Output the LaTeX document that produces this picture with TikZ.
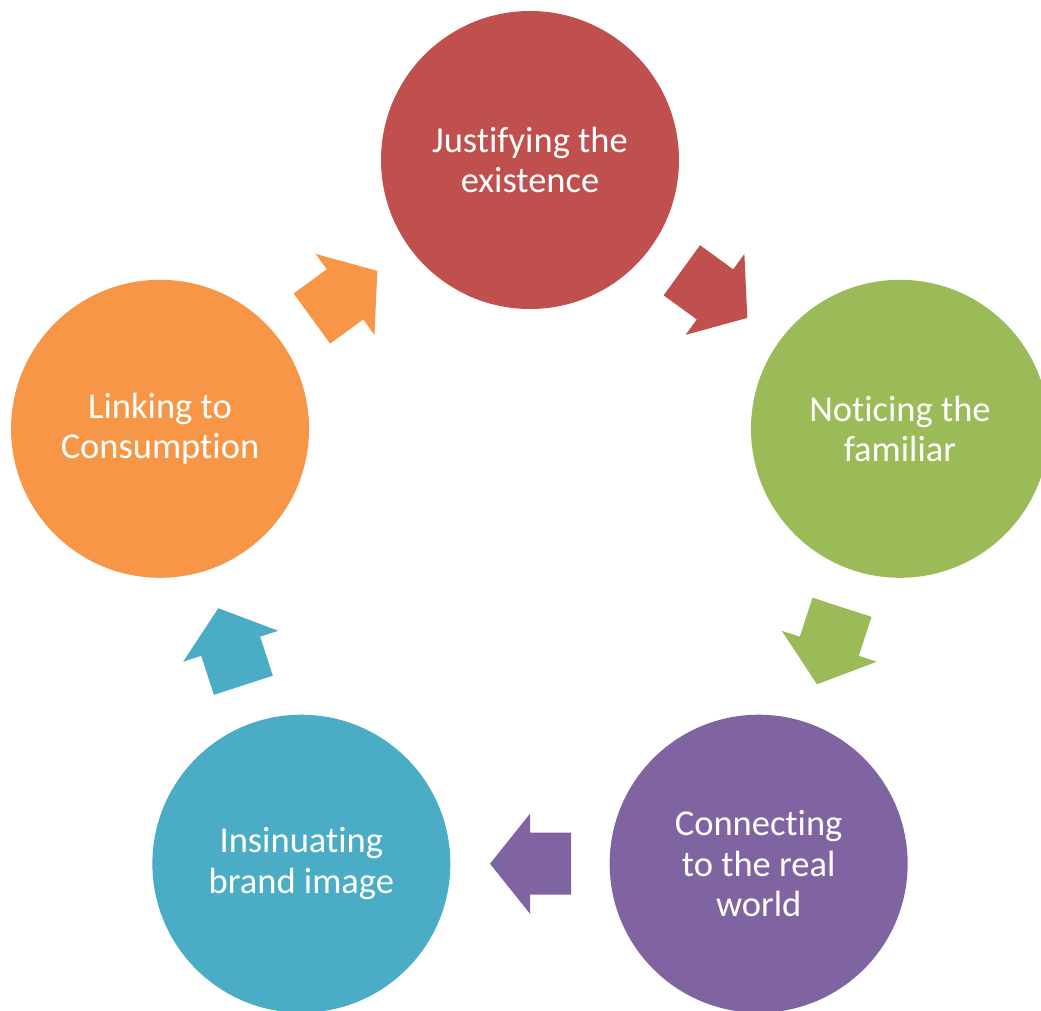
\documentclass[tikz,border=0pt]{standalone}
\usepackage{fontspec}
\setmainfont{Carlito}[Ligatures={NoCommon,NoContextual,NoRequired},RawFeature={-liga;-clig;-calt}]
\usetikzlibrary{calc}
\definecolor{cred}{HTML}{C0504D}
\definecolor{cgreen}{HTML}{9BBB59}
\definecolor{cpurple}{HTML}{8064A2}
\definecolor{cteal}{HTML}{4BACC6}
\definecolor{corange}{HTML}{F79646}
\newcommand{\blockarr}[3]{%
  \fill[blockarrow, #3, shift={(#1)}, rotate=#2]
    (-41,-31) -- (0,-31) -- (0,-50) -- (40,0) -- (0,50) -- (0,31) -- (-41,31) -- cycle;}
\begin{document}
\begin{tikzpicture}[x=1pt,y=1pt,
  stage/.style={circle, minimum size=298pt, inner sep=0pt, text=white, align=center,
    font=\fontsize{36.5}{40.5}\selectfont},
  blockarrow/.style={draw=none}]
\useasboundingbox (0,0) rectangle (1041,-1011);
\clip (0,0) rectangle (1041,-1011);
\coordinate (O) at (530,-549);
\node[stage, fill=cred]    (just)   at ($(O)+(90:389)$)   {Justifying the\\existence};
\node[stage, fill=cgreen]  (notice) at ($(O)+(18:389)$)   {Noticing the\\familiar};
\node[stage, fill=cpurple] (conn)   at ($(O)+(-54:389)$)  {Connecting\\to the real\\world};
\node[stage, fill=cteal]   (insin)  at ($(O)+(-126:389)$) {Insinuat\kern0pt ing\\brand image};
\node[stage, fill=corange] (link)   at ($(O)+(162:389)$)  {Linking to\\Consumpt\kern0pt ion};
\coordinate (m1) at ($(just)!0.5!(notice)$);
\coordinate (m2) at ($(notice)!0.5!(conn)$);
\coordinate (m3) at ($(conn)!0.5!(insin)$);
\coordinate (m4) at ($(insin)!0.5!(link)$);
\coordinate (m5) at ($(link)!0.5!(just)$);
\blockarr{m1}{-36}{cred}
\blockarr{m2}{-108}{cgreen}
\blockarr{m3}{180}{cpurple}
\blockarr{m4}{108}{cteal}
\blockarr{m5}{36}{corange}
\end{tikzpicture}
\end{document}
